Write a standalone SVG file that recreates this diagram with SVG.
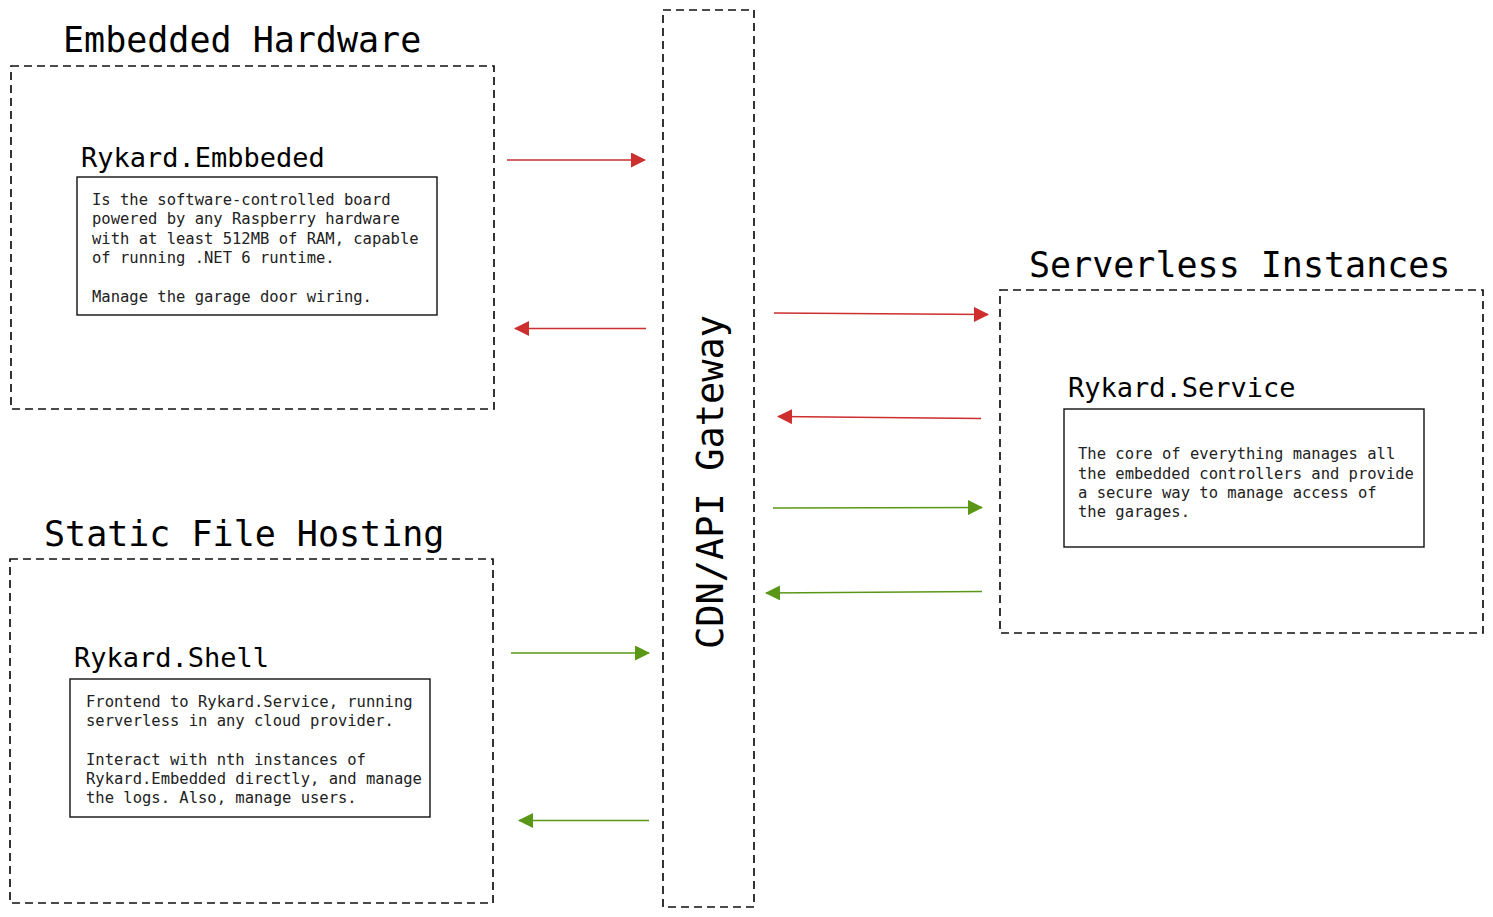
<svg xmlns="http://www.w3.org/2000/svg" width="1493" height="917" viewBox="0 0 1493 917">
<style>
.grp{fill:none;stroke:#111;stroke-width:1.7;stroke-dasharray:8 5}
.box{fill:#fff;stroke:#111;stroke-width:1.4}
.title{font-family:"DejaVu Sans Mono","Liberation Mono",monospace;font-size:35px;fill:#000}
.name{font-family:"DejaVu Sans Mono","Liberation Mono",monospace;font-size:27px;fill:#000}
.body{font-family:"DejaVu Sans Mono","Liberation Mono",monospace;font-size:15.5px;fill:#222}
.red{stroke:#cd2e2e;stroke-width:1.4;fill:none}
.green{stroke:#5a9716;stroke-width:1.4;fill:none}
</style>
<defs>
<marker id="ar" markerWidth="15" markerHeight="15" viewBox="0 0 15 15" refX="14" refY="7.5" orient="auto" markerUnits="userSpaceOnUse"><path d="M0,0 L15,7.5 L0,15 Z" fill="#cd2e2e"/></marker>
<marker id="ag" markerWidth="15" markerHeight="15" viewBox="0 0 15 15" refX="14" refY="7.5" orient="auto" markerUnits="userSpaceOnUse"><path d="M0,0 L15,7.5 L0,15 Z" fill="#5a9716"/></marker>
</defs>
<rect width="1493" height="917" fill="#fff"/>

<g id="embedded-hardware">
<text class="title" x="63" y="52">Embedded Hardware</text>
<rect class="grp" x="11" y="66" width="483" height="343"/>
</g>
<g id="rykard-embedded">
<text class="name" x="81" y="167">Rykard.Embbeded</text>
<rect class="box" x="77" y="177" width="360" height="138"/>
<text class="body" x="92" y="205">Is the software-controlled board</text>
<text class="body" x="92" y="224.3">powered by any Raspberry hardware</text>
<text class="body" x="92" y="243.6">with at least 512MB of RAM, capable</text>
<text class="body" x="92" y="262.9">of running .NET 6 runtime.</text>
<text class="body" x="92" y="301.5">Manage the garage door wiring.</text>
</g>

<g id="serverless-instances">
<text class="title" x="1029" y="277">Serverless Instances</text>
<rect class="grp" x="1000" y="290" width="483" height="343"/>
</g>
<g id="rykard-service">
<text class="name" x="1068" y="397">Rykard.Service</text>
<rect class="box" x="1064" y="409" width="360" height="138"/>
<text class="body" x="1078" y="459.3">The core of everything manages all</text>
<text class="body" x="1078" y="478.6">the embedded controllers and provide</text>
<text class="body" x="1078" y="497.9">a secure way to manage access of</text>
<text class="body" x="1078" y="517.2">the garages.</text>
</g>

<g id="static-file-hosting">
<text class="title" x="44" y="546">Static File Hosting</text>
<rect class="grp" x="10" y="559" width="483" height="344"/>
</g>
<g id="rykard-shell">
<text class="name" x="74" y="667">Rykard.Shell</text>
<rect class="box" x="70" y="679" width="360" height="138"/>
<text class="body" x="86" y="706.7">Frontend to Rykard.Service, running</text>
<text class="body" x="86" y="726">serverless in any cloud provider.</text>
<text class="body" x="86" y="764.6">Interact with nth instances of</text>
<text class="body" x="86" y="783.9">Rykard.Embedded directly, and manage</text>
<text class="body" x="86" y="803.2">the logs. Also, manage users.</text>
</g>

<g id="gateway">
<rect class="grp" x="663" y="10" width="91" height="897"/>
<text class="title" style="font-size:37px" text-anchor="middle" transform="translate(722.5,482) rotate(-90)">CDN/API Gateway</text>
</g>

<g id="connectors">
<line class="red" x1="507" y1="160" x2="645" y2="160" marker-end="url(#ar)"/>
<line class="red" x1="646" y1="328.5" x2="515" y2="328.5" marker-end="url(#ar)"/>
<line class="red" x1="774" y1="313" x2="988" y2="314.5" marker-end="url(#ar)"/>
<line class="red" x1="981" y1="418.5" x2="778" y2="416.5" marker-end="url(#ar)"/>
<line class="green" x1="773" y1="508" x2="982" y2="507.5" marker-end="url(#ag)"/>
<line class="green" x1="982" y1="591.5" x2="766" y2="593" marker-end="url(#ag)"/>
<line class="green" x1="511" y1="653" x2="649" y2="653" marker-end="url(#ag)"/>
<line class="green" x1="649" y1="820.5" x2="519" y2="820.5" marker-end="url(#ag)"/>
</g>
</svg>
